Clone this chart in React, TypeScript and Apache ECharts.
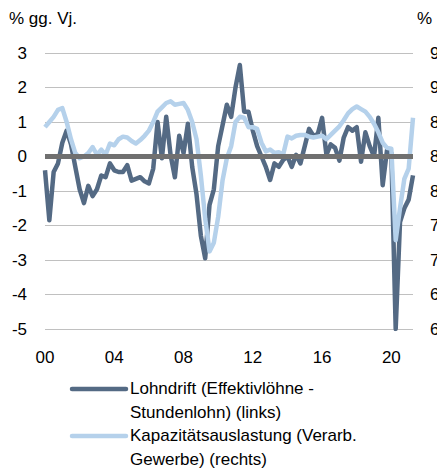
import React, { useEffect, useRef } from "react";
import * as echarts from "echarts";

// Quarterly data, 2000Q1 .. 2021Q2
const startYear = 2000;
const quarterCount = 86;

// Lohndrift (Effektivlöhne - Stundenlohn), % gg. Vj. (left axis)
const lohndrift = [
  -0.4, -1.85, -0.45, -0.2, 0.4, 0.75, 0.35, -0.3, -0.95, -1.35,
  -0.85, -1.15, -0.95, -0.55, -0.6, -0.2, -0.4, -0.45, -0.45, -0.25,
  -0.7, -0.65, -0.6, -0.72, -0.78, -0.35, 1.0, -0.05, 1.15, 0.05,
  -0.6, 0.6, 0.1, 0.95, -0.3, -1.1, -2.3, -2.95, -1.4, -0.95,
  0.3, 0.9, 1.5, 1.15, 2.0, 2.65, 1.3, 1.3, 0.75, 0.3,
  0.0, -0.3, -0.68, -0.2, -0.3, -0.1, 0.0, -0.3, 0.05, -0.2,
  0.3, 0.8, 0.6, 0.65, 1.12, 0.05, 0.35, 0.25, -0.12, 0.55,
  0.85, 0.75, 0.85, -0.15, 0.7, 0.3, 0.0, 1.12, -0.83, 0.19,
  0.1, -5.0, -1.9, -1.5, -1.25, -0.55,
];

// Kapazitätsauslastung (Verarb. Gewerbe), % (right axis)
const kapazitaet = [
  87.4, 88.0, 88.6, 89.4, 89.6, 88.0, 86.0, 84.4, 83.8, 84.0,
  84.4, 85.1, 84.2, 84.8, 84.2, 85.5, 85.3, 86.0, 86.3, 86.2,
  85.8, 85.5, 85.9, 86.4, 87.0, 88.0, 89.2, 89.7, 90.2, 90.4,
  90.0, 90.1, 90.2, 89.4, 88.0, 86.0, 81.8, 76.8, 73.0, 74.0,
  77.0, 81.2, 83.8, 85.2, 88.0, 88.6, 88.5, 87.4, 87.4, 87.2,
  85.6, 84.6, 84.8, 84.4, 84.5, 84.2, 86.3, 86.1, 86.4, 86.5,
  86.5, 86.3, 86.2, 86.3, 86.4, 86.0, 86.5, 87.0, 87.5, 88.2,
  89.0, 89.5, 89.8, 89.5, 89.2, 88.6, 87.8, 86.8, 85.6, 85.0,
  84.9, 74.3, 78.0, 81.4, 82.6, 88.5,
];

const leftTicks = { min: -5, max: 3, interval: 1 };
const rightTicks = { min: 64, max: 96, interval: 4 };

const seriesNames = [
  "Lohndrift (Effektivlöhne -\nStundenlohn) (links)",
  "Kapazitätsauslastung (Verarb.\nGewerbe) (rechts)",
];
const leftTitle = "% gg. Vj.";
const rightTitle = "%";

const quarters: string[] = [];
for (let i = 0; i < quarterCount; i++) {
  const y = startYear + Math.floor(i / 4);
  quarters.push(`${y}Q${(i % 4) + 1}`);
}

const DARK = "#546a84";
const LIGHT = "#b5d1eb";
const FONT = "'Liberation Sans', Arial, sans-serif";
const FS = 17;

export default function App() {
  const ref = useRef<HTMLDivElement>(null);

  useEffect(() => {
    document.body.style.margin = "0";
    if (!ref.current) return;
    const chart = echarts.init(ref.current, undefined, { renderer: "svg" });
    const textStyle = { fontFamily: FONT, fontSize: FS, color: "#000" };
    chart.setOption({
      animation: false,
      textStyle: { fontFamily: FONT },
      grid: {
        left: 45,
        right: 24,
        top: 53,
        bottom: 142,
        containLabel: false,
        outerBoundsMode: "none",
      },
      xAxis: {
        type: "category",
        data: quarters,
        boundaryGap: false,
        axisLine: { show: false },
        axisTick: { show: false },
        axisLabel: {
          ...textStyle,
          margin: 20,
          interval: (idx: number) => idx % 16 === 0,
          formatter: (v: string) => v.slice(2, 4),
        },
        splitLine: { show: false },
      },
      yAxis: [
        {
          type: "value",
          ...leftTicks,
          axisLine: { show: false },
          axisTick: { show: false },
          axisLabel: { ...textStyle, margin: 18 },
          splitLine: { show: true, lineStyle: { color: "#c0c0c0", width: 1 } },
        },
        {
          type: "value",
          ...rightTicks,
          position: "right",
          axisLine: { show: false },
          axisTick: { show: false },
          axisLabel: { ...textStyle, margin: 17 },
          splitLine: { show: false },
        },
      ],
      series: [
        {
          name: "zero",
          type: "line",
          data: [],
          z: 1,
          silent: true,
          markLine: {
            silent: true,
            symbol: ["none", "none"],
            label: { show: false },
            lineStyle: { color: "#707070", width: 5, type: "solid" },
            data: [{ yAxis: 0 }],
          },
        },
        {
          name: seriesNames[0],
          type: "line",
          yAxisIndex: 0,
          data: lohndrift,
          showSymbol: false,
          symbol: "none",
          z: 3,
          lineStyle: { color: DARK, width: 4.5, join: "round" },
          itemStyle: { color: DARK },
        },
        {
          name: seriesNames[1],
          type: "line",
          yAxisIndex: 1,
          data: kapazitaet,
          showSymbol: false,
          symbol: "none",
          z: 4,
          lineStyle: { color: LIGHT, width: 4.5, join: "round" },
          itemStyle: { color: LIGHT },
        },
      ],
      graphic: [
        {
          type: "text",
          left: 9,
          top: 10,
          style: { text: leftTitle, font: `${FS}px ${FONT}`, fill: "#000" },
        },
        {
          type: "text",
          left: 417,
          top: 10,
          style: { text: rightTitle, font: `${FS}px ${FONT}`, fill: "#000" },
        },
        {
          type: "line",
          shape: { x1: 72, y1: 389, x2: 126, y2: 389 },
          style: { stroke: DARK, lineWidth: 4.5, lineCap: "round" },
        },
        {
          type: "text",
          x: 130,
          y: 377,
          style: {
            text: seriesNames[0],
            font: `${FS}px ${FONT}`,
            fill: "#000",
            lineHeight: 23.5,
            verticalAlign: "top",
          },
        },
        {
          type: "line",
          shape: { x1: 72, y1: 436, x2: 126, y2: 436 },
          style: { stroke: LIGHT, lineWidth: 4.5, lineCap: "round" },
        },
        {
          type: "text",
          x: 130,
          y: 424,
          style: {
            text: seriesNames[1],
            font: `${FS}px ${FONT}`,
            fill: "#000",
            lineHeight: 23.5,
            verticalAlign: "top",
          },
        },
      ],
    });
    return () => chart.dispose();
  }, []);

  return <div ref={ref} style={{ width: 437, height: 471 }} />;
}
